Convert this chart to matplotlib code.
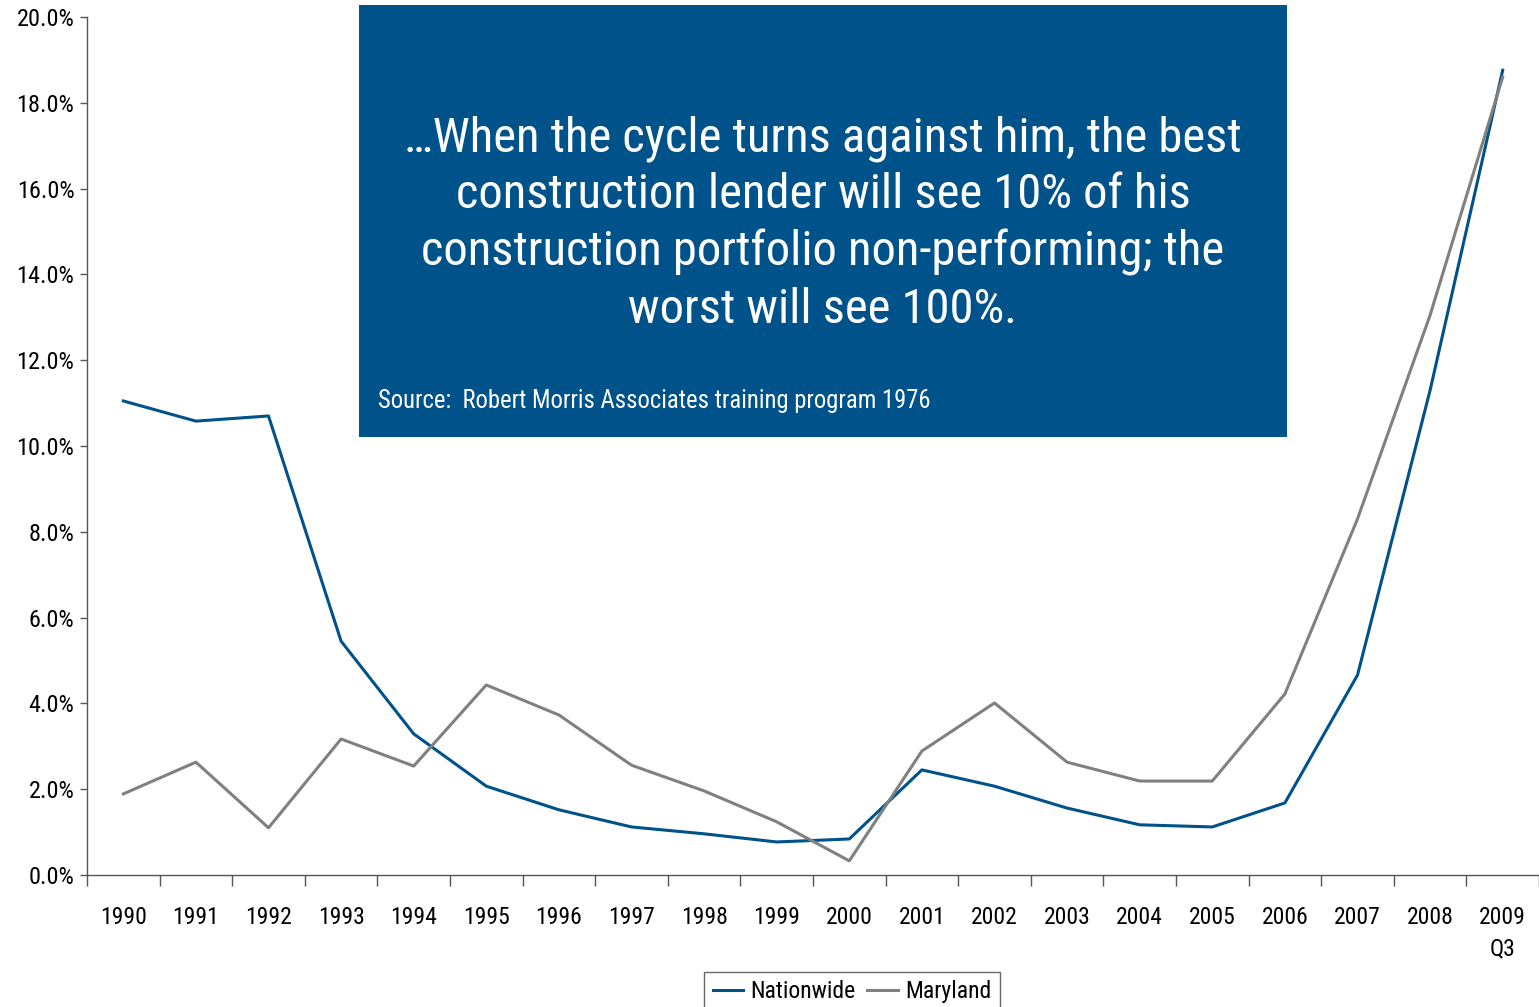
import matplotlib
matplotlib.use("Agg")
import matplotlib.pyplot as plt
from matplotlib.ticker import FixedLocator, FuncFormatter

# Data (percent)
years = ['1990', '1991', '1992', '1993', '1994', '1995', '1996', '1997', '1998', '1999',
         '2000', '2001', '2002', '2003', '2004', '2005', '2006', '2007', '2008', '2009\nQ3']
nationwide = [11.05, 10.58, 10.70, 5.45, 3.29, 2.07, 1.52, 1.12, 0.96, 0.77,
              0.84, 2.45, 2.07, 1.56, 1.17, 1.12, 1.68, 4.66, 11.3, 18.76]
maryland = [1.89, 2.63, 1.10, 3.17, 2.54, 4.43, 3.73, 2.56, 1.96, 1.24,
            0.33, 2.89, 4.01, 2.63, 2.19, 2.19, 4.22, 8.30, 13.05, 18.6]

quote = ("\u2026When the cycle turns against him, the best\n"
         "construction lender will see 10% of his\n"
         "construction portfolio non-performing; the\n"
         "worst will see 100%.")
source = "Source:  Robert Morris Associates training program 1976"

plt.rcParams['font.family'] = ['Roboto Condensed', 'DejaVu Sans']

BLUE = '#00528A'
GRAY = '#808080'

fig = plt.figure(figsize=(15.39, 10.07), dpi=100)
ax = fig.add_axes([87 / 1539, 1 - 875 / 1007, (1539 - 87) / 1539, (875 - 17) / 1007])

x = list(range(len(years)))
ax.plot(x, nationwide, color=BLUE, lw=2.2, label='Nationwide', zorder=3)
ax.plot(x, maryland, color=GRAY, lw=2.2, label='Maryland', zorder=3)

ax.set_xlim(-0.5, len(years) - 0.5)
ax.set_ylim(0, 20)
ax.set_yticks([0, 2, 4, 6, 8, 10, 12, 14, 16, 18, 20])
ax.yaxis.set_major_formatter(FuncFormatter(lambda v, p: f"{v:.1f}%"))

ax.set_xticks(x)
ax.set_xticklabels(years, fontsize=17, linespacing=1.5)
ax.xaxis.set_minor_locator(FixedLocator([i - 0.5 for i in range(len(years) + 1)]))
ax.tick_params(axis='x', which='major', length=0, pad=22)
ax.tick_params(axis='x', which='minor', length=8, color='#555555', width=1)
ax.tick_params(axis='y', length=5, color='#555555', width=1, labelsize=17.5, pad=4)

for s in ['top', 'right']:
    ax.spines[s].set_visible(False)
for s in ['left', 'bottom']:
    ax.spines[s].set_color('#555555')
    ax.spines[s].set_linewidth(1)

# quote box
fig.patches.append(plt.Rectangle((359 / 1539, 1 - 437 / 1007), (1287 - 359) / 1539, (437 - 5) / 1007,
                                 transform=fig.transFigure, facecolor=BLUE, edgecolor='none', zorder=5))
fig.text(823 / 1539, 1 - 224 / 1007, quote, color='white', fontsize=35, ha='center', va='center',
         linespacing=1.29, zorder=6)
fig.text(378 / 1539, 1 - 401 / 1007, source, color='white', fontsize=17.7, ha='left', va='center', zorder=6)

leg = fig.legend(loc='upper center', bbox_to_anchor=(852 / 1539, 1 - 972 / 1007), ncol=2, fontsize=17,
                 frameon=True, fancybox=False, edgecolor='#444444', handlelength=1.3, handletextpad=0.3,
                 columnspacing=0.5, borderpad=0.35, borderaxespad=0)
leg.get_frame().set_linewidth(1)

fig.savefig('out.png', dpi=100)
